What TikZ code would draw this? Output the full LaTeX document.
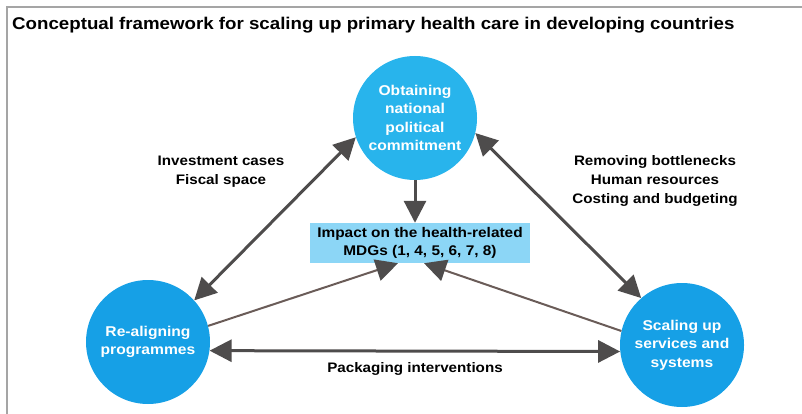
\documentclass[tikz,border=0pt]{standalone}
\usepackage{fontspec}
\setmainfont{Liberation Sans}[FakeStretch=1.1]
\usetikzlibrary{arrows.meta}

\definecolor{hubblue}{RGB}{22,160,230}
\definecolor{topblue}{RGB}{40,180,236}
\definecolor{goalblue}{RGB}{140,214,246}
\definecolor{arrowgray}{RGB}{78,76,76}
\definecolor{linkbrown}{RGB}{106,92,88}
\definecolor{framegray}{RGB}{165,165,165}

\begin{document}
\begin{tikzpicture}[x=1pt,y=-1pt,
    >={Triangle[length=22pt,width=22pt]},
    hub/.style={circle,fill=hubblue,minimum size=124pt,inner sep=0pt,
        text=white,align=center,font=\bfseries\fontsize{14.2}{18.5}\selectfont},
    goal/.style={rectangle,fill=goalblue,minimum width=220pt,minimum height=40pt,
        inner sep=0pt,align=center,font=\bfseries\fontsize{14}{18}\selectfont},
    note/.style={align=center,font=\bfseries\fontsize{13.8}{19}\selectfont},
    bigarrow/.style={draw=arrowgray,fill=arrowgray,line width=3pt},
    thinarrow/.style={draw=linkbrown,line width=2pt,
        -{Triangle[length=22pt,width=22pt,fill=arrowgray,color=arrowgray]}}]
    \useasboundingbox (0,0) rectangle (802,414);
    % frame and heading
    \draw[framegray,line width=1.5pt] (7,414) -- (7,7) -- (802,7);
    \node[anchor=base west,inner sep=0pt,font=\bfseries\fontsize{17}{20}\selectfont] (title) at (12,30)
        {Conceptual framework for scaling up primary health care in developing countries};

    % the three circles and the goal box
    \node[hub,fill=topblue] (commit) at (415,118) {Obtaining\\national\\political\\commitment};
    \node[hub] (realign) at (148,342) {Re-aligning\\programmes};
    \node[hub] (scaleup) at (682,345) {Scaling up\\services and\\systems};
    \node[goal] (impact) at (420,243) {Impact on the health-related\\MDGs (1, 4, 5, 6, 7, 8)};

    % links between the circles
    \draw[<->,bigarrow] (realign.42) -- (commit.198);
    \draw[<->,bigarrow] (commit.346) -- (scaleup.131);
    \draw[<->,bigarrow] (realign.352) -- (scaleup.186);
    \draw[->,bigarrow] (commit.south) -- (commit.south |- impact.north);

    \draw[thinarrow] (realign.15) -- ([xshift=-22pt]impact.south);
    \draw[thinarrow] (scaleup.167) -- ([xshift=4pt]impact.south);

    % labels on the links
    \node[note] (invest) at (221,172) {Investment cases\\Fiscal space};
    \node[note] (remove) at (655,181) {Removing bottlenecks\\Human resources\\Costing and budgeting};
    \node[note] (pack) at (415,369) {Packaging interventions};
\end{tikzpicture}
\end{document}
